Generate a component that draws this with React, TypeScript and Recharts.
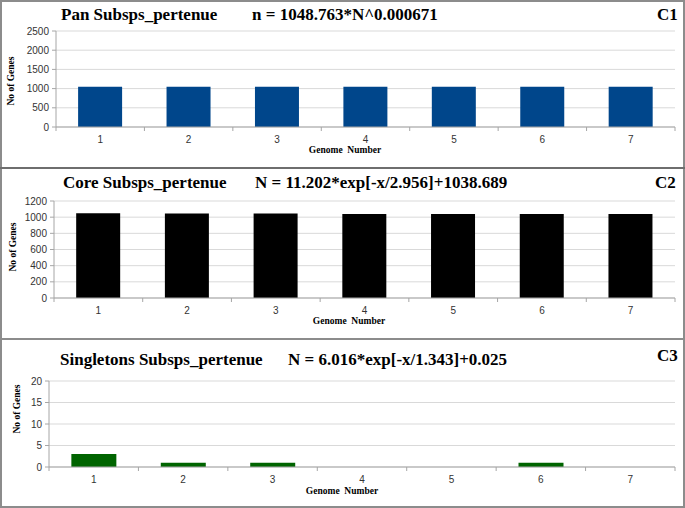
import { BarChart, Bar, XAxis, YAxis, CartesianGrid } from 'recharts';

const genomes = ['1', '2', '3', '4', '5', '6', '7'];
const panGenes = [1049, 1049, 1049, 1049, 1049, 1049, 1049];
const coreGenes = [1047, 1046, 1046, 1039, 1039, 1039, 1039];
const singletonGenes = [3, 1, 1, 0, 0, 1, 0];

const panTicks = [0, 500, 1000, 1500, 2000, 2500];
const coreTicks = [0, 200, 400, 600, 800, 1000, 1200];
const singletonTicks = [0, 5, 10, 15, 20];

const serif = '"Liberation Serif", "Times New Roman", serif';
const sans = '"Liberation Sans", Arial, sans-serif';
const AXIS = '#a6a6a6';
const GRID = '#d9d9d9';

function GenomeTick(props: any) {
  const { x, y, payload, index, visibleTicksCount, width } = props;
  const half = payload.offset ?? width / (2 * visibleTicksCount);
  const base = y - 8;
  return (
    <g>
      <line x1={x - half} x2={x - half} y1={base} y2={base + 4} stroke={AXIS} />
      {index === visibleTicksCount - 1 && (
        <line x1={x + half} x2={x + half} y1={base} y2={base + 4} stroke={AXIS} />
      )}
      <text x={x} y={y} dy={7.5} textAnchor="middle" fontFamily={sans} fontSize={10} fill="#333">
        {payload.value}
      </text>
    </g>
  );
}

interface PanelProps {
  top: number;
  height: number;
  marginTop: number;
  marginBottom: number;
  axisWidth: number;
  values: number[];
  ticks: number[];
  color: string;
}

function Panel({ top, height, marginTop, marginBottom, axisWidth, values, ticks, color }: PanelProps) {
  const data = genomes.map((g, i) => ({ genome: g, genes: values[i] }));
  return (
    <div style={{ position: 'absolute', left: 0, top }}>
      <BarChart
        width={685}
        height={height}
        data={data}
        margin={{ top: marginTop, right: 10, bottom: marginBottom, left: 0 }}
        barCategoryGap="25%"
      >
        <CartesianGrid vertical={false} stroke={GRID} yAxisId="l" />
        <XAxis
          dataKey="genome"
          height={30}
          tickSize={8}
          tickMargin={0}
          tickLine={false}
          stroke={AXIS}
          tick={<GenomeTick />}
        />
        <YAxis
          yAxisId="l"
          width={axisWidth}
          domain={[0, ticks[ticks.length - 1]]}
          ticks={ticks}
          interval={0}
          tickSize={4}
          tickMargin={3}
          stroke={AXIS}
          tick={{ fill: '#333', fontSize: 10, fontFamily: sans }}
        />
        <YAxis yAxisId="r" orientation="right" width={0} tick={false} tickLine={false} stroke={GRID} />
        <Bar yAxisId="l" dataKey="genes" fill={color} isAnimationActive={false} />
      </BarChart>
    </div>
  );
}

const text = (left: number, top: number, size: number, content: string) => (
  <div
    style={{
      position: 'absolute',
      left,
      top,
      fontFamily: serif,
      fontWeight: 'bold',
      fontSize: size,
      lineHeight: `${size}px`,
      whiteSpace: 'pre',
      color: '#000',
    }}
  >
    {content}
  </div>
);

const axisTitle = (cx: number, cy: number, content: string, rotate = false) => (
  <div
    style={{
      position: 'absolute',
      left: cx,
      top: cy,
      transform: `translate(-50%, -50%)${rotate ? ' rotate(-90deg)' : ''}`,
      fontFamily: serif,
      fontWeight: 'bold',
      fontSize: 9.5,
      lineHeight: '9px',
      whiteSpace: 'pre',
      color: '#000',
    }}
  >
    {content}
  </div>
);

export default function App() {
  return (
    <div style={{ position: 'absolute', left: 0, top: 0, width: 685, height: 508, background: '#fff', overflow: 'hidden' }}>
      <Panel top={0} height={168} marginTop={31} marginBottom={11} axisWidth={56} values={panGenes} ticks={panTicks} color="#00468b" />
      <Panel top={168} height={170} marginTop={33} marginBottom={10} axisWidth={54} values={coreGenes} ticks={coreTicks} color="#000000" />
      <Panel top={339} height={167} marginTop={42} marginBottom={9} axisWidth={49} values={singletonGenes} ticks={singletonTicks} color="#006400" />

      {text(61, 6, 17, 'Pan Subsps_pertenue')}
      {text(252, 6, 17, 'n = 1048.763*N^0.000671')}
      {text(657, 6, 17, 'C1')}
      {text(63, 174, 17, 'Core Subsps_pertenue')}
      {text(255, 174, 17, 'N = 11.202*exp[-x/2.956]+1038.689')}
      {text(655, 174, 17, 'C2')}
      {text(60, 351, 17, 'Singletons Subsps_pertenue')}
      {text(288, 351, 17, 'N = 6.016*exp[-x/1.343]+0.025')}
      {text(657, 347, 17, 'C3')}

      {axisTitle(11, 81, 'No of Genes', true)}
      {axisTitle(13, 247, 'No of Genes', true)}
      {axisTitle(16.5, 409, 'No of Genes', true)}
      {axisTitle(345, 150, 'Genome  Number')}
      {axisTitle(349, 321, 'Genome  Number')}
      {axisTitle(342, 491, 'Genome  Number')}

      <div style={{ position: 'absolute', left: 0, top: 0, width: 681, height: 504, border: '2px solid #8c8c8c' }} />
      <div style={{ position: 'absolute', left: 0, top: 167, width: 685, height: 2, background: '#6e6e6e' }} />
      <div style={{ position: 'absolute', left: 0, top: 338, width: 685, height: 2, background: '#8c8c8c' }} />
    </div>
  );
}
